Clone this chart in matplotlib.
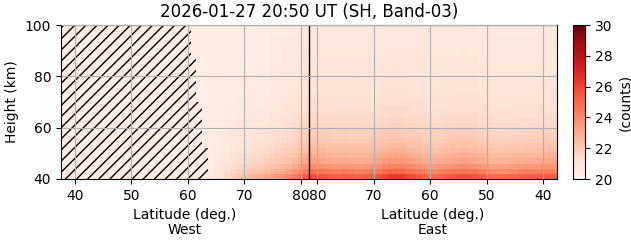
import numpy as np
import matplotlib
matplotlib.use("Agg")
import matplotlib.pyplot as plt

# ---- data ----
title = "2026-01-27 20:50 UT (SH, Band-03)"
west_lat = list(range(38, 82))            # column centres, West side (1 deg bins)
east_lat = list(range(81, 37, -1))        # column centres, East side
height_centres = list(range(41, 100, 2))  # 2 km bins, 40-100 km

west_bottom = [20.6]*27 + [20.9, 21.1, 21.5, 21.8, 22.1, 22.3, 22.5, 22.7, 22.9,
                           23.1, 23.3, 23.5, 23.7, 24.0, 24.4, 24.9, 25.4]
west_bg = [20.5]*37 + [20.6, 20.6, 20.7, 20.7, 20.7, 20.8, 20.8]
east_bottom = [25.8, 25.8, 25.6, 25.4, 25.3, 25.3, 25.4, 25.3, 25.2, 25.2, 25.3,
               25.4, 25.7, 26.0, 26.3, 26.4, 26.3, 26.0, 25.8, 25.5, 25.2, 25.1,
               25.0, 25.2, 25.4, 25.6, 25.7, 25.8, 25.7, 25.6, 25.4, 25.2, 25.0,
               24.9, 24.9, 25.0, 25.1, 25.2, 25.3, 25.4, 25.4, 25.5, 25.5, 25.4]
east_bg = [20.8]*30 + [20.7]*14
profile = [1.0, 0.78, 0.62, 0.50, 0.42, 0.36, 0.31, 0.27, 0.23, 0.20, 0.17, 0.15,
           0.13, 0.11, 0.09, 0.08, 0.07, 0.06, 0.05, 0.05, 0.04, 0.04, 0.03, 0.03,
           0.02, 0.02, 0.01, 0.01, 0.0, 0.0]

# masked (hatched) region on West side: stepped boundary
hatch_heights = [40, 52, 70, 88, 100]
hatch_edge = [63.5, 62.5, 61.5, 60.5, 60.5]

west_ticks = [40, 50, 60, 70, 80]
east_ticks = [80, 70, 60, 50, 40]
yticks = [40, 60, 80, 100]
vmin, vmax = 20, 30
seam = 81.5   # highest latitude where West and East meet

# ---- build field ----
bottom = np.array(west_bottom + east_bottom)
bg = np.array(west_bg + east_bg)
prof = np.array(profile)
field = bg[None, :] + (bottom - bg)[None, :] * prof[:, None]

# x coordinate: West = lat, East mirrored beyond seam
xw = np.array(west_lat, float)
xe = 2 * seam - np.array(east_lat, float)
xc = np.concatenate([xw, xe])
xedges = np.concatenate([xc - 0.5, [xc[-1] + 0.5]])
hc = np.array(height_centres, float)
yedges = np.concatenate([hc - 1, [hc[-1] + 1]])

fig = plt.figure(figsize=(6.31, 2.43), dpi=100)
ax = fig.add_axes([61/631, 1 - 179/243, (557-61)/631, (179-25)/243])
cax = fig.add_axes([573/631, 1 - 179/243, 12/631, (179-25)/243])

mesh = ax.pcolormesh(xedges, yedges, field, cmap="Reds", vmin=vmin, vmax=vmax,
                     shading="flat")
ax.fill_betweenx(hatch_heights, xedges[0], hatch_edge, step="post",
                 facecolor="none", edgecolor="k", hatch="///", linewidth=0)
ax.axvline(seam, color="k", linewidth=1)

tick_pos = list(west_ticks) + [2 * seam - t for t in east_ticks]
tick_lab = [str(t) for t in west_ticks] + [str(t) for t in east_ticks]
ax.set_xticks(tick_pos)
ax.set_xticklabels(tick_lab)
ax.set_yticks(yticks)
ax.set_xlim(xedges[0], xedges[-1])
ax.set_ylim(40, 100)
ax.grid(True, color="#b0b0b0", linewidth=0.8)
ax.set_axisbelow(False)
ax.set_ylabel("Height (km)")
ax.set_title(title, fontsize=12)
ax.text(0.25, -0.19, "Latitude (deg.)\nWest", transform=ax.transAxes,
        ha="center", va="top", fontsize=10, linespacing=1.1)
ax.text(0.75, -0.19, "Latitude (deg.)\nEast", transform=ax.transAxes,
        ha="center", va="top", fontsize=10, linespacing=1.1)

cb = fig.colorbar(mesh, cax=cax)
cb.set_ticks([20, 22, 24, 26, 28, 30])
cb.set_label("(counts)")

fig.savefig("out.png", dpi=100)
